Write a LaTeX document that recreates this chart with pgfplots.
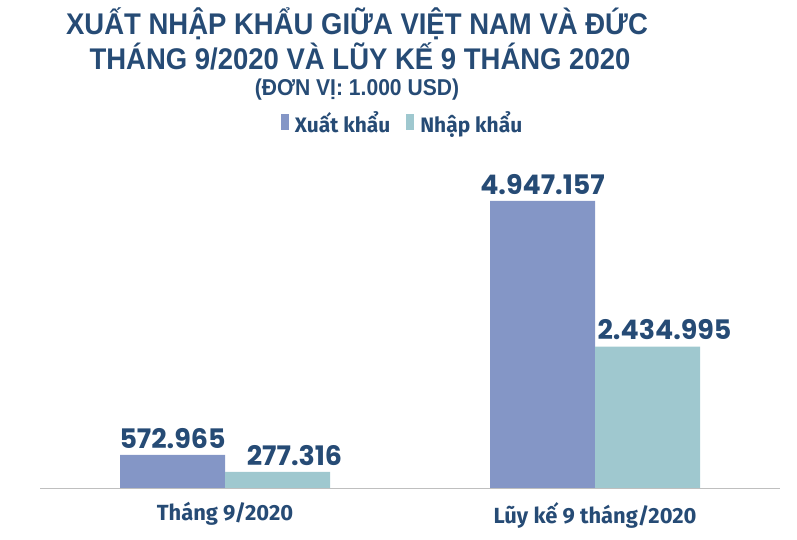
\documentclass[border=0pt]{standalone}
\usepackage{fontspec}
\setmainfont{Fira Sans}
\newfontfamily\titlefont[FakeStretch=0.92]{Liberation Sans}
\newfontfamily\numfont{Poppins}
\usepackage{pgfplots}
\pgfplotsset{compat=1.18}
\definecolor{txt}{RGB}{38,75,117}
\definecolor{xk}{RGB}{132,150,198}
\definecolor{nk}{RGB}{159,200,207}
\definecolor{axgray}{RGB}{191,191,191}

\begin{document}
\begin{tikzpicture}[x=1bp,y=1bp]
  \path (0,0) rectangle (797,540);
  % titles
  \node[anchor=base, text=txt, font=\titlefont\bfseries\fontsize{30}{32}\selectfont]
    at (357,505) {XUẤT NHẬP KHẨU GIỮA VIỆT NAM VÀ ĐỨC};
  \node[anchor=base, text=txt, font=\titlefont\bfseries\fontsize{30}{32}\selectfont]
    at (360,470) {THÁNG 9/2020 VÀ LŨY KẾ 9 THÁNG 2020};
  \node[anchor=base, text=txt, font=\titlefont\bfseries\fontsize{23}{25}\selectfont]
    at (357,444) {(ĐƠN VỊ: 1.000 USD)};

  \begin{axis}[
    at={(40bp,52bp)}, anchor=south west,
    scale only axis, width=740bp, height=300bp,
    ybar=0pt, bar width=105bp,
    xmin=-0.5, xmax=1.5, ymin=0, ymax=5171300,
    axis y line=none, axis x line=bottom,
    x axis line style={draw=axgray, line width=0.8pt, -},
    xtick={0,1}, xticklabels={Tháng 9/2020, Lũy kế 9 tháng/2020},
    major tick length=0pt, ytick=\empty,
    tick label style={text=txt, font=\bfseries\fontsize{22}{24}\selectfont, yshift=-11bp},
    point meta=explicit symbolic,
    nodes near coords,
    every node near coord/.append style={text=txt, font=\numfont\bfseries\fontsize{27}{29}\selectfont, yshift=3bp},
    legend style={at={(0.49,1.217)}, anchor=center, legend columns=2, draw=none,
      fill=none, text=txt, font=\bfseries\fontsize{21}{23}\selectfont,
      /tikz/every odd column/.append style={column sep=4bp},
      /tikz/every even column/.append style={column sep=14bp}},
    legend image code/.code={\fill[#1] (0bp,-7bp) rectangle (8bp,9bp);},
  ]
  \addplot[fill=xk, draw=none] coordinates {
    (0,572965) [572.965]
    (1,4947157) [4.947.157]
  };
  \addplot[fill=nk, draw=none,
    every node near coord/.append style={xshift=17bp}] coordinates {
    (0,277316) [277.316]
    (1,2434995) [2.434.995]
  };
  \legend{Xuất khẩu, Nhập khẩu}
  \end{axis}
\end{tikzpicture}
\end{document}
